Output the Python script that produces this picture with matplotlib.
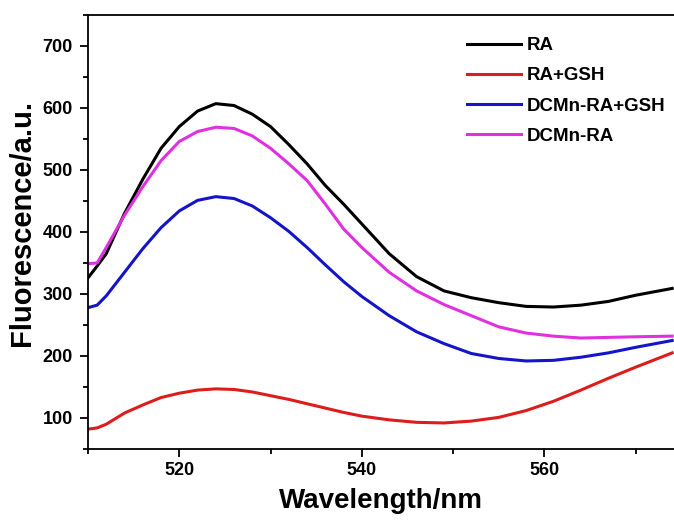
import matplotlib
matplotlib.use("Agg")
import matplotlib.pyplot as plt
from matplotlib.ticker import MultipleLocator

plt.rcParams['font.family'] = ['Liberation Sans', 'DejaVu Sans']
plt.rcParams['font.weight'] = 'bold'

wavelength = [510, 511, 512, 514, 516, 518, 520, 522, 524, 526, 528, 530, 532, 534,
              536, 538, 540, 543, 546, 549, 552, 555, 558, 561, 564, 567, 570, 574]

ra = [326, 345, 365, 430, 485, 535, 570, 595, 607, 604, 590, 570, 541, 510,
      475, 445, 413, 365, 328, 305, 294, 286, 280, 279, 282, 288, 298, 309]
ra_gsh = [82, 84, 90, 108, 121, 133, 140, 145, 147, 146, 142, 136, 130, 123,
          116, 109, 103, 97, 93, 92, 95, 101, 112, 127, 145, 164, 182, 205]
dcmn_ra_gsh = [278, 282, 297, 335, 373, 407, 434, 451, 457, 454, 442, 423, 401, 375,
               347, 320, 296, 265, 239, 220, 204, 196, 192, 193, 198, 205, 214, 225]
dcmn_ra = [349, 350, 375, 427, 473, 515, 546, 562, 569, 567, 555, 535, 510, 483,
           445, 405, 375, 335, 305, 283, 265, 247, 237, 232, 229, 230, 231, 232]

labels = ['RA', 'RA+GSH', 'DCMn-RA+GSH', 'DCMn-RA']
colors = ['#000000', '#dd1c1c', '#1414c8', '#e030e0']

fig = plt.figure(figsize=(6.74, 5.2), dpi=100)
ax = fig.add_axes([88 / 674, 1 - 449 / 520, 1 - 88 / 674, (449 - 15) / 520])

for ys, lab, c in zip([ra, ra_gsh, dcmn_ra_gsh, dcmn_ra], labels, colors):
    ax.plot(wavelength, ys, color=c, linewidth=2.2, label=lab)

ax.set_xlim(510, 574.2)
ax.set_ylim(50, 750)
ax.xaxis.set_major_locator(MultipleLocator(20))
ax.xaxis.set_minor_locator(MultipleLocator(10))
ax.yaxis.set_major_locator(MultipleLocator(100))
ax.yaxis.set_minor_locator(MultipleLocator(50))
ax.tick_params(which='major', direction='out', length=6, width=1.3, labelsize=13)
ax.tick_params(axis='y', which='major', pad=5)
ax.tick_params(which='minor', direction='out', length=3.5, width=1.3)
ax.spines['right'].set_visible(False)
for s in ['left', 'bottom', 'top']:
    ax.spines[s].set_linewidth(1.3)

ax.set_xlabel('Wavelength/nm', fontsize=20, fontweight='bold', labelpad=6)
ax.set_ylabel('Fluorescence/a.u.', fontsize=21, fontweight='bold')
ax.yaxis.set_label_coords(-0.088, 0.52)

leg = ax.legend(loc='upper left', bbox_to_anchor=(467 / 674, 1 - 37 / 520),
                bbox_transform=fig.transFigure, frameon=False, fontsize=13.5,
                handlelength=2.9, handletextpad=0.3, labelspacing=0.7,
                borderpad=0, borderaxespad=0)

fig.savefig('out.png', dpi=100)
